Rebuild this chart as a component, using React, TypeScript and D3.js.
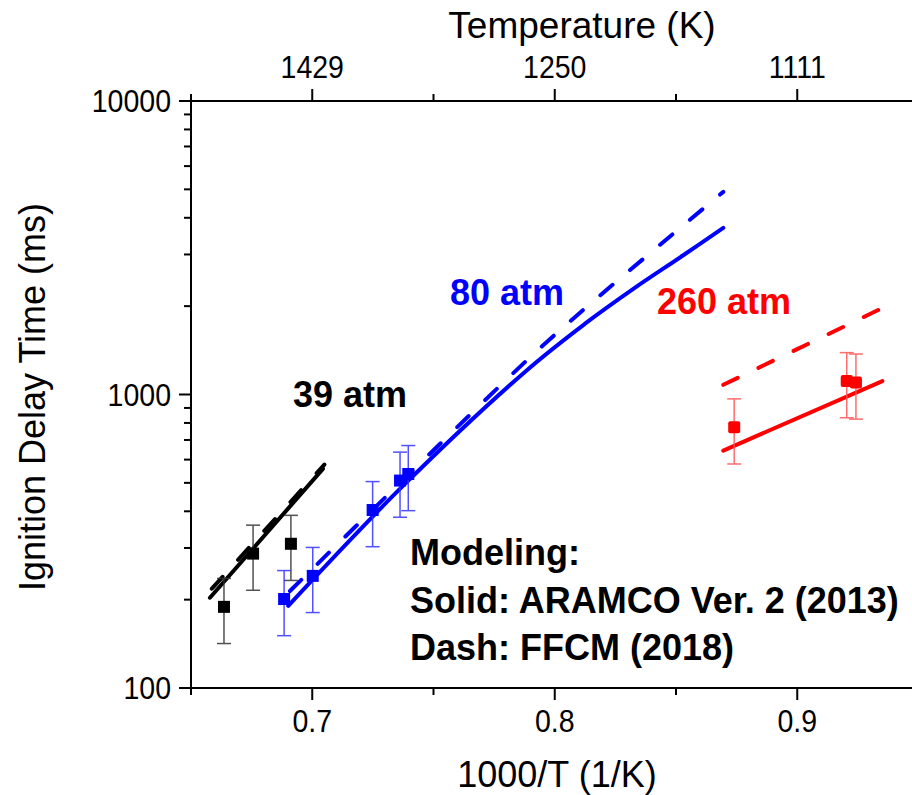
import React from "react";
import * as d3 from "d3";

// ---------- data ----------
const xTicksMajor = [0.7, 0.8, 0.9];
const xTicksMinor = [0.65, 0.75, 0.85, 0.95];
const topTickLabels = ["1429", "1250", "1111"];
const yTicksMajor = [100, 1000, 10000];

// experimental points [1000/T, IDT]
const exp39x = [0.6636, 0.6756, 0.6912];
const exp39y = [189, 287, 310];
const exp80x = [0.6884, 0.7002, 0.7249, 0.7362, 0.7396];
const exp80y = [201, 241, 404, 509, 536];
const exp260x = [0.874, 0.9204, 0.9242];
const exp260y = [773, 1111, 1099];
const errFrac = 0.25;

// model curves
const aramco39x = [0.6578, 0.7044];
const aramco39y = [203, 558];
const ffcm39x = [0.6586, 0.705];
const ffcm39y = [218, 577];

const aramco80x = [0.6901, 0.7375, 0.7884, 0.8125, 0.8324, 0.853, 0.8695];
const aramco80y = [190.5, 489, 1208, 1743, 2290, 2981, 3694];
const ffcm80x = [0.6908, 0.7877, 0.8125, 0.8695];
const ffcm80y = [214, 1289, 1966, 4903];

const aramco260x = [0.8695, 0.9351];
const aramco260y = [644, 1111];
const ffcm260x = [0.8695, 0.9351];
const ffcm260y = [1079, 1971];

const W = 912;
const H = 795;
const L = 191;
const R = 918.5;
const T = 101;
const B = 688;

const FONT = "'Liberation Sans', Arial, sans-serif";
const SX = 0.92;

export default function App() {
  const x = d3.scaleLinear().domain([0.65, 0.95]).range([L, R]);
  const y = d3.scaleLog().domain([100, 10000]).range([B, T]);

  const line = d3
    .line<[number, number]>()
    .x((d) => x(d[0]))
    .y((d) => y(d[1]))
    .curve(d3.curveCatmullRom.alpha(0.5));

  const zip = (xs: number[], ys: number[]) =>
    xs.map((v, i) => [v, ys[i]] as [number, number]);

  const yMinor: number[] = [];
  for (const dec of [100, 1000]) {
    for (let k = 2; k <= 9; k++) yMinor.push(dec * k);
  }

  const series = [
    { color: "#000000", errColor: "#333333", xs: exp39x, ys: exp39y, size: 12 },
    { color: "#0000ff", errColor: "#3333ff", xs: exp80x, ys: exp80y, size: 12 },
    { color: "#ff0000", errColor: "#ff5555", xs: exp260x, ys: exp260y, size: 12 },
  ];

  const models = [
    { c: "#000000", xs: aramco39x, ys: aramco39y, dash: false },
    { c: "#000000", xs: ffcm39x, ys: ffcm39y, dash: true },
    { c: "#0000ff", xs: aramco80x, ys: aramco80y, dash: false },
    { c: "#0000ff", xs: ffcm80x, ys: ffcm80y, dash: true },
    { c: "#ff0000", xs: aramco260x, ys: aramco260y, dash: false },
    { c: "#ff0000", xs: ffcm260x, ys: ffcm260y, dash: true },
  ];

  const tick = (tx: number, ty: number, s: string, anchor: string, k: string) => (
    <text key={k} transform={`translate(${tx},${ty}) scale(${SX},1)`} textAnchor={anchor}>
      {s}
    </text>
  );

  return (
    <svg
      width={W}
      height={H}
      style={{ position: "absolute", left: 0, top: 0, overflow: "hidden", background: "#fff" }}
      fontFamily={FONT}
    >
      <rect x={0} y={0} width={W} height={H} fill="#fff" />
      {/* model lines */}
      {models.map((m, i) => (
        <path
          key={"m" + i}
          d={line(zip(m.xs, m.ys)) || ""}
          fill="none"
          stroke={m.c}
          strokeWidth={4}
          strokeLinecap="round"
          strokeDasharray={m.dash ? "16 23" : undefined}
        />
      ))}
      {/* error bars + points */}
      {series.map((s, si) => (
        <g key={"s" + si}>
          {s.xs.map((xv, i) => {
            const yv = s.ys[i];
            const cx = x(xv);
            const yt = y(yv * (1 + errFrac));
            const yb = y(yv * (1 - errFrac));
            return (
              <g key={i} stroke={s.errColor} strokeWidth={1.5} opacity={0.85}>
                <line x1={cx} x2={cx} y1={yt} y2={yb} />
                <line x1={cx - 7} x2={cx + 7} y1={yt} y2={yt} />
                <line x1={cx - 7} x2={cx + 7} y1={yb} y2={yb} />
              </g>
            );
          })}
          {s.xs.map((xv, i) => (
            <rect
              key={"p" + i}
              x={x(xv) - s.size / 2}
              y={y(s.ys[i]) - s.size / 2}
              width={s.size}
              height={s.size}
              fill={s.color}
              rx={si === 2 ? 2 : 0}
            />
          ))}
        </g>
      ))}

      {/* axes */}
      <g stroke="#000" strokeWidth={2}>
        <line x1={L} x2={W} y1={B} y2={B} />
        <line x1={L} x2={W} y1={T} y2={T} />
        <line x1={L} x2={L} y1={T} y2={B} />
        {xTicksMajor.map((t) => (
          <g key={"xt" + t}>
            <line x1={x(t)} x2={x(t)} y1={B} y2={B + 12} />
            <line x1={x(t)} x2={x(t)} y1={T} y2={T - 12} />
          </g>
        ))}
        {xTicksMinor.map((t) => (
          <g key={"xm" + t}>
            <line x1={x(t)} x2={x(t)} y1={B} y2={B + 7} />
            <line x1={x(t)} x2={x(t)} y1={T} y2={T - 7} />
          </g>
        ))}
        {yTicksMajor.map((t) => (
          <line key={"yt" + t} x1={L} x2={L - 12} y1={y(t)} y2={y(t)} />
        ))}
        {yMinor.map((t) => (
          <line key={"ym" + t} x1={L} x2={L - 7} y1={y(t)} y2={y(t)} />
        ))}
      </g>

      {/* tick labels */}
      <g fontSize={31} fill="#000">
        {xTicksMajor.map((t) => tick(x(t), 732, d3.format(".1f")(t), "middle", "xl" + t))}
        {xTicksMajor.map((t, i) => tick(x(t), 78, topTickLabels[i], "middle", "tl" + t))}
        {yTicksMajor.map((t) => tick(171, y(t) + 11, String(t), "end", "yl" + t))}
      </g>

      {/* axis titles */}
      <g fontSize={36} fill="#000">
        <text x={582} y={38} textAnchor="middle" fontSize={37}>Temperature (K)</text>
        <text x={557} y={787} textAnchor="middle">1000/T (1/K)</text>
        <text transform={`translate(45, 397) rotate(-90)`} textAnchor="middle">
          Ignition Delay Time (ms)
        </text>
      </g>

      {/* annotations */}
      <g fontSize={36} fontWeight="bold">
        <text x={293} y={407} fill="#000">39 atm</text>
        <text x={450} y={305} fill="#0000ff">80 atm</text>
        <text x={657} y={314} fill="#ff0000">260 atm</text>
        <g fill="#000">
          <text x={410} y={565}>Modeling:</text>
          <text x={410} y={613}>Solid: ARAMCO Ver. 2 (2013)</text>
          <text x={410} y={660}>Dash: FFCM (2018)</text>
        </g>
      </g>
    </svg>
  );
}
